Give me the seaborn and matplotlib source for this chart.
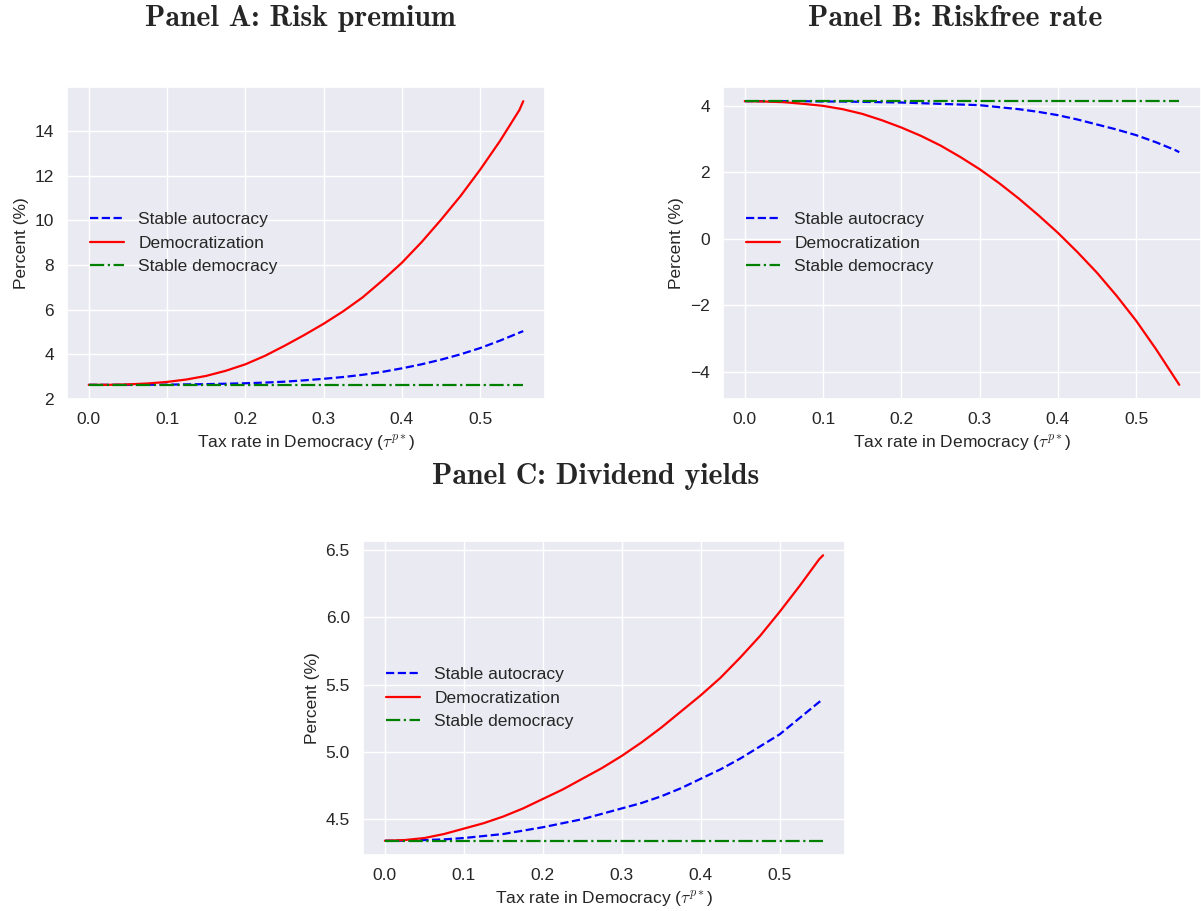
import numpy as np
import pandas as pd
import matplotlib
matplotlib.use("Agg")
import matplotlib.pyplot as plt
import seaborn as sns

# ---- data ----
tax = [0.0, 0.025, 0.05, 0.075, 0.1, 0.125, 0.15, 0.175, 0.2, 0.225, 0.25, 0.275,
       0.3, 0.325, 0.35, 0.375, 0.4, 0.425, 0.45, 0.475, 0.5, 0.525, 0.55, 0.555]

rp_autocracy = [2.62, 2.62, 2.62, 2.62, 2.63, 2.64, 2.65, 2.67, 2.69, 2.72, 2.76, 2.82,
                2.89, 2.97, 3.07, 3.20, 3.36, 3.54, 3.75, 3.99, 4.27, 4.60, 4.96, 5.03]
rp_democratization = [2.62, 2.62, 2.64, 2.68, 2.75, 2.86, 3.02, 3.25, 3.54, 3.92, 4.37, 4.85,
                      5.36, 5.92, 6.55, 7.30, 8.10, 9.02, 10.03, 11.10, 12.28, 13.55, 14.95, 15.35]
rp_democracy = [2.62] * len(tax)

rf_autocracy = [4.13, 4.13, 4.13, 4.13, 4.12, 4.12, 4.11, 4.10, 4.09, 4.07, 4.05, 4.03,
                4.01, 3.95, 3.89, 3.81, 3.71, 3.58, 3.43, 3.28, 3.11, 2.90, 2.66, 2.60]
rf_democratization = [4.13, 4.12, 4.10, 4.05, 3.99, 3.89, 3.75, 3.56, 3.34, 3.09, 2.80, 2.46,
                      2.09, 1.67, 1.21, 0.71, 0.18, -0.40, -1.02, -1.71, -2.46, -3.30, -4.20, -4.38]
rf_democracy = [4.13] * len(tax)

dy_autocracy = [4.34, 4.34, 4.345, 4.35, 4.36, 4.375, 4.39, 4.415, 4.44, 4.47, 4.50, 4.54,
                4.58, 4.62, 4.67, 4.73, 4.80, 4.87, 4.95, 5.04, 5.13, 5.25, 5.37, 5.39]
dy_democratization = [4.34, 4.345, 4.36, 4.39, 4.43, 4.47, 4.52, 4.58, 4.65, 4.72, 4.80, 4.88,
                      4.97, 5.07, 5.18, 5.30, 5.42, 5.55, 5.70, 5.86, 6.04, 6.23, 6.43, 6.46]
dy_democracy = [4.34] * len(tax)

series_names = ["Stable autocracy", "Democratization", "Stable democracy"]
panel_titles = ["Panel A: Risk premium", "Panel B: Riskfree rate", "Panel C: Dividend yields"]
x_label = r"Tax rate in Democracy ($\tau^{p*}$)"
y_label = "Percent (%)"

# ---- style ----
sns.set_theme(style="darkgrid")
plt.rcParams["font.family"] = ["Liberation Sans", "DejaVu Sans"]
plt.rcParams["mathtext.fontset"] = "cm"

colors = ["blue", "red", "green"]
styles = ["--", "-", "-."]
FS = 12.5

fig = plt.figure(figsize=(12.01, 9.11), dpi=100)
W, H = 1201, 911

def rect(l, r, t, b):
    return [l / W, 1 - b / H, (r - l) / W, (b - t) / H]

axes = [fig.add_axes(rect(67, 545, 87, 399)),
        fig.add_axes(rect(723, 1201, 87, 399)),
        fig.add_axes(rect(363, 845, 541, 855))]

panels = [(rp_autocracy, rp_democratization, rp_democracy),
          (rf_autocracy, rf_democratization, rf_democracy),
          (dy_autocracy, dy_democratization, dy_democracy)]

for ax, vals in zip(axes, panels):
    for name, v, c, ls in zip(series_names, vals, colors, styles):
        df = pd.DataFrame({"tax": tax, "value": v})
        sns.lineplot(data=df, x="tax", y="value", ax=ax, color=c, linestyle=ls,
                     linewidth=1.6, label=name)
    ax.set_xlabel(x_label, fontsize=FS, labelpad=5)
    ax.set_ylabel(y_label, fontsize=FS)
    ax.tick_params(labelsize=FS)
    ax.set_xticks([0.0, 0.1, 0.2, 0.3, 0.4, 0.5])
    ax.legend(loc="center left", frameon=False, fontsize=FS, borderaxespad=0.9)

axes[2].set_yticks([4.5, 5.0, 5.5, 6.0, 6.5])

title_pos = [(300, 18), (955, 18), (596, 476)]
for t, (x, y) in zip(panel_titles, title_pos):
    fig.text(x / W, 1 - y / H, t, ha="center", va="center", fontsize=21.5,
             family=["cmb10", "DejaVu Serif"], fontweight="bold")

fig.savefig("out.png", dpi=100)
